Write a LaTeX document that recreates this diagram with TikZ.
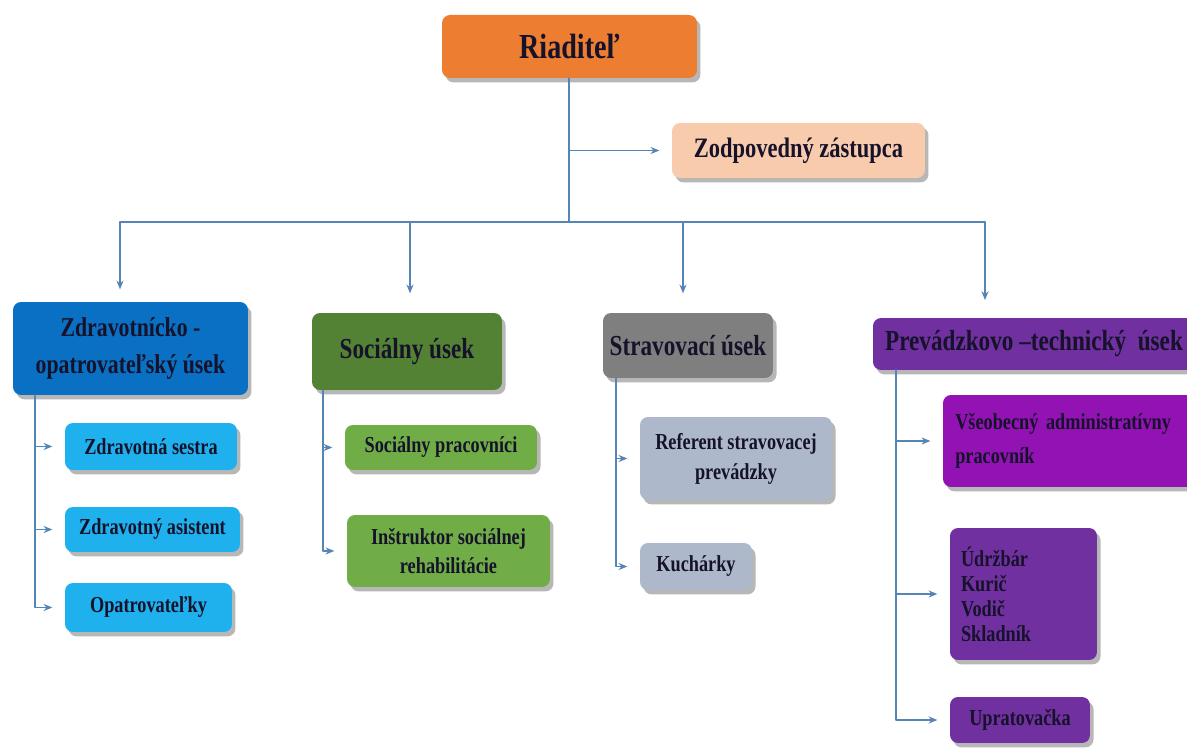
\documentclass[tikz,border=0pt]{standalone}
\usepackage{fontspec}
\setmainfont[FakeStretch=0.8]{Liberation Serif}
\usepackage{xcolor}
\usepackage{tikz}
\usetikzlibrary{positioning,calc,arrows.meta,shadows}

\definecolor{oranz}{HTML}{ED7D31}
\definecolor{brosk}{HTML}{F8CBAD}
\definecolor{modra}{HTML}{0A70C4}
\definecolor{tzelena}{HTML}{548235}
\definecolor{seda}{HTML}{7F7F7F}
\definecolor{fialova}{HTML}{7030A0}
\definecolor{smodra}{HTML}{1FB0EE}
\definecolor{szelena}{HTML}{70AD47}
\definecolor{sseda}{HTML}{ADB9CA}
\definecolor{magenta}{HTML}{9212B4}
\definecolor{ciara}{HTML}{5585B5}
\definecolor{pismo}{HTML}{15122A}

\begin{document}
\begin{tikzpicture}[x=0.02cm,y=-0.02cm, line cap=round, line join=round]
				% ===== okraje =====
				\useasboundingbox[fill=white] (0,0) rectangle (1187,749);
				
				% ===== styly =====
				\tikzset{
					box/.style={draw=none, rounded corners=0.16cm, text=pismo, align=center, inner sep=2pt,
						font=\bfseries, drop shadow={shadow xshift=2pt, shadow yshift=-2.5pt, fill=black!35, opacity=0.8}},
					hlava/.style={box, font=\fontsize{16.5}{20}\selectfont\bfseries},
					clen/.style={box, font=\fontsize{13}{17}\selectfont\bfseries},
					arr/.style={draw=ciara, line width=1pt, -{Stealth[length=5pt,width=4pt]}},
					ln/.style={draw=ciara, line width=1pt}
				}
				
				% ===== vedenie =====
				\node[box, fill=oranz, minimum width=5.1cm, minimum height=1.26cm, font=\fontsize{20}{24}\selectfont\bfseries] (riad) at (569.5,46.5) {Riaditeľ};
				\node[box, fill=brosk, minimum width=5.06cm, minimum height=1.1cm, font=\fontsize{16}{20}\selectfont\bfseries] (zast) at (798.5,150.5) {Zodpovedný zástupca};
				
				% ===== úseky =====
				\node[hlava, fill=modra, minimum width=4.7cm, minimum height=1.86cm, font=\fontsize{15.5}{21}\selectfont\bfseries] (zdrav) at (130.5,348.5) {Zdravotnícko -\\opatrovateľský úsek};
				\node[hlava, fill=tzelena, minimum width=3.8cm, minimum height=1.54cm] (soc) at (407,351.5) {Sociálny úsek};
				\node[hlava, fill=seda, minimum width=3.4cm, minimum height=1.3cm] (strav) at (688,345.5) {Stravovací úsek};
				\node[hlava, fill=fialova, minimum width=6.44cm, minimum height=1.04cm] (prev) at (1034,344) {Prevádzkovo –technický\ \ úsek};
				
				% ===== zdravotnícko-opatrovateľský úsek =====
				\node[clen, fill=smodra, minimum width=3.44cm, minimum height=0.94cm] (sestra) at (151,446.5) {Zdravotná sestra};
				\node[clen, fill=smodra, minimum width=3.5cm, minimum height=0.9cm] (asist) at (152.5,529.5) {Zdravotný asistent};
				\node[clen, fill=smodra, minimum width=3.34cm, minimum height=0.98cm] (opat) at (148.5,607.5) {Opatrovateľky};
				
				% ===== sociálny úsek =====
				\node[clen, fill=szelena, minimum width=3.84cm, minimum height=0.9cm] (pracov) at (441,447.5) {Sociálny pracovníci};
				\node[clen, fill=szelena, minimum width=4.06cm, minimum height=1.44cm] (instr) at (448.5,551) {Inštruktor sociálnej\\rehabilitácie};
				
				% ===== stravovací úsek =====
				\node[clen, fill=sseda, minimum width=3.84cm, minimum height=1.66cm] (refer) at (736,458.5) {Referent stravovacej\\prevádzky};
				\node[clen, fill=sseda, minimum width=2.24cm, minimum height=0.94cm] (kuch) at (696,566.5) {Kuchárky};
				
				% ===== prevádzkovo-technický úsek =====
				\node[clen, fill=magenta, minimum width=5.04cm, minimum height=1.84cm, align=left, text width=4.55cm, font=\fontsize{13}{19}\selectfont\bfseries] (admin) at (1069,441) {Všeobecný administratívny\\pracovník};
				\node[clen, fill=fialova, minimum width=2.94cm, minimum height=2.64cm, align=left, text width=2.5cm, font=\fontsize{13}{14.2}\selectfont\bfseries] (udrz) at (1023.5,594) {Údržbár\\Kurič\\Vodič\\Skladník};
				\node[clen, fill=fialova, minimum width=2.8cm, minimum height=0.92cm] (uprat) at (1020,720) {Upratovačka};
				
				% ===== spojnice =====
				\coordinate (zbernica) at (569,222);
				\coordinate (d1) at (120,222);
				\coordinate (d2) at (410,222);
				\coordinate (d3) at (683,222);
				\coordinate (d4) at (985,222);
				\draw[ln] (riad.south -| zbernica) -- (zbernica);
				\draw[ln] (d1) -- (d4);
				\draw[arr, shorten >=7pt] (zbernica |- zast.west) -- (zast.west);
				\draw[arr, shorten >=7pt] (d1) -- (d1 |- zdrav.north);
				\draw[arr, shorten >=11pt] (d2) -- (d2 |- soc.north);
				\draw[arr, shorten >=11pt] (d3) -- (d3 |- strav.north);
				\draw[arr, shorten >=10pt] (d4) -- (d4 |- prev.north);
				
				\coordinate (c1) at (35,0);
				\coordinate (c2) at (323,0);
				\coordinate (c3) at (616,0);
				\coordinate (c4) at (896,0);
				\foreach \n in {sestra,asist,opat}
					\draw[arr, shorten >=7pt] (zdrav.south -| c1) |- (\n.west);
				\foreach \n in {pracov,instr}
					\draw[arr, shorten >=7pt] (soc.south -| c2) |- (\n.west);
				\foreach \n in {refer,kuch}
					\draw[arr, shorten >=7pt] (strav.south -| c3) |- (\n.west);
				\foreach \n in {admin,udrz,uprat}
					\draw[arr, shorten >=7pt] (prev.south -| c4) |- (\n.west);
			\end{tikzpicture}
\end{document}
